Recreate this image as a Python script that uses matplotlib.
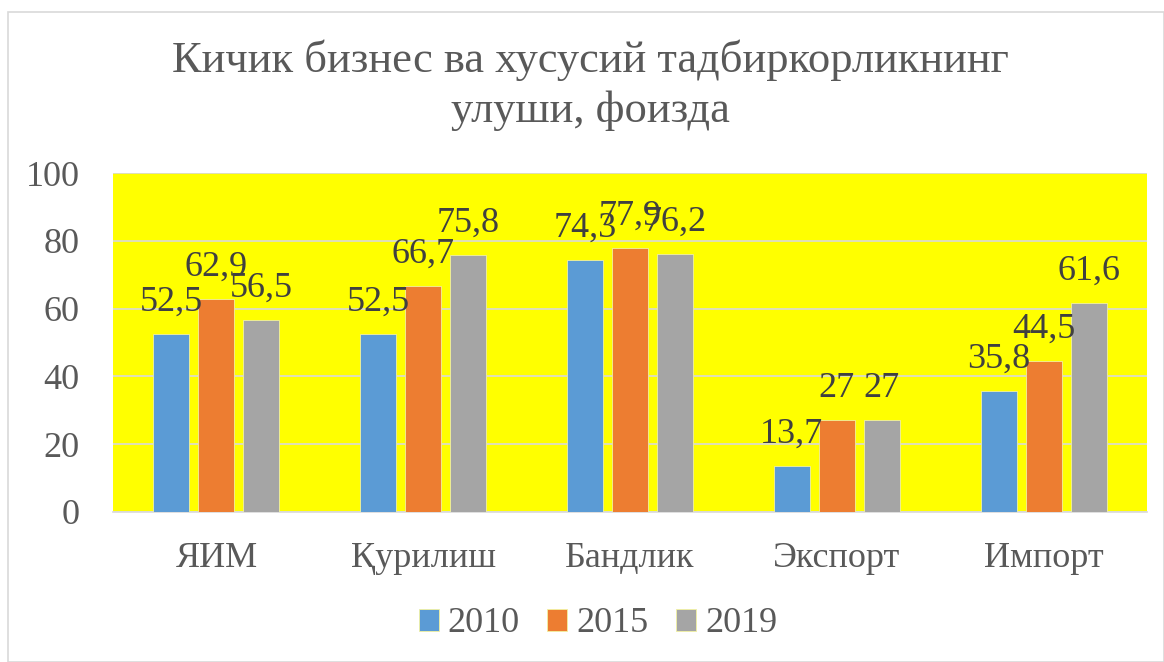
import matplotlib
matplotlib.use("Agg")
import matplotlib.pyplot as plt
from matplotlib.patches import Rectangle
from matplotlib.font_manager import FontProperties
import numpy as np

categories = ["ЯИМ", "Қурилиш", "Бандлик", "Экспорт", "Импорт"]
years = ["2010", "2015", "2019"]
v2010 = [52.5, 52.5, 74.3, 13.7, 35.8]
v2015 = [62.9, 66.7, 77.9, 27, 44.5]
v2019 = [56.5, 75.8, 76.2, 27, 61.6]
yticks = [0, 20, 40, 60, 80, 100]
title = "Кичик бизнес ва хусусий тадбиркорликнинг\nулуши, фоизда"

colors = ["#5B9BD5", "#ED7D31", "#A5A5A5"]
series = [v2010, v2015, v2019]

FONT = "Liberation Serif"
plt.rcParams['font.family'] = [FONT, 'DejaVu Serif']

W, H = 1164, 662
fig = plt.figure(figsize=(W / 100, H / 100), dpi=100)
fig.patch.set_facecolor("white")
fig.add_artist(Rectangle((8 / W, 0), 1 - 8 / W, 1 - 12 / H, transform=fig.transFigure,
                         fill=False, edgecolor="#D9D9D9", linewidth=1.2))

left, right, top, bottom = 113, 1147, 173, 512
ax = fig.add_axes([left / W, 1 - bottom / H, (right - left) / W, (bottom - top) / H])
ax.set_facecolor("#FFFF00")

x = np.arange(len(categories))
width = 0.174
step = 0.2176
for i, (vals, c, lab) in enumerate(zip(series, colors, years)):
    pos = x + (i - 1) * step
    bars = ax.bar(pos, vals, width, color=c, label=lab, zorder=3,
                  edgecolor="#F2F2A0", linewidth=0.6)
    for b, v in zip(bars, vals):
        txt = (f"{v:g}").replace(".", ",")
        ax.annotate(txt, (b.get_x() + b.get_width() / 2, v), xytext=(0, 11),
                    textcoords="offset points", ha="center", va="bottom",
                    fontsize=26, color="#404040", zorder=4, family=FONT)

ax.set_xlim(-0.5, len(categories) - 0.5)
ax.set_ylim(0, 100)
ax.set_yticks(yticks)
ax.set_yticklabels([str(t) for t in yticks], family=FONT)
ax.set_xticks(x)
ax.set_xticklabels(categories, family=FONT)
ax.tick_params(axis="y", length=0, pad=24, labelsize=26, labelcolor="#595959")
ax.tick_params(axis="x", length=0, pad=21.5, labelsize=26, labelcolor="#595959")
ax.yaxis.grid(True, color="#D9D9D9", linewidth=1.2, zorder=1)
ax.set_axisbelow(True)
for s in ["left", "right", "top"]:
    ax.spines[s].set_visible(False)
ax.spines["bottom"].set_color("#D9D9D9")
ax.spines["bottom"].set_linewidth(1.2)

fig.text(0.507, 1 - 85 / H, title, ha="center", va="center", fontsize=32,
         color="#595959", linespacing=1.3, family=FONT)

leg = fig.legend(loc="center", bbox_to_anchor=(598 / W, 1 - 624 / H), ncol=3,
                 frameon=False, prop=FontProperties(family=FONT, size=26),
                 handlelength=0.55, handleheight=0.55,
                 handletextpad=0.25, columnspacing=0.77, labelcolor="#595959")

fig.savefig("out.png", dpi=100, facecolor="white")
